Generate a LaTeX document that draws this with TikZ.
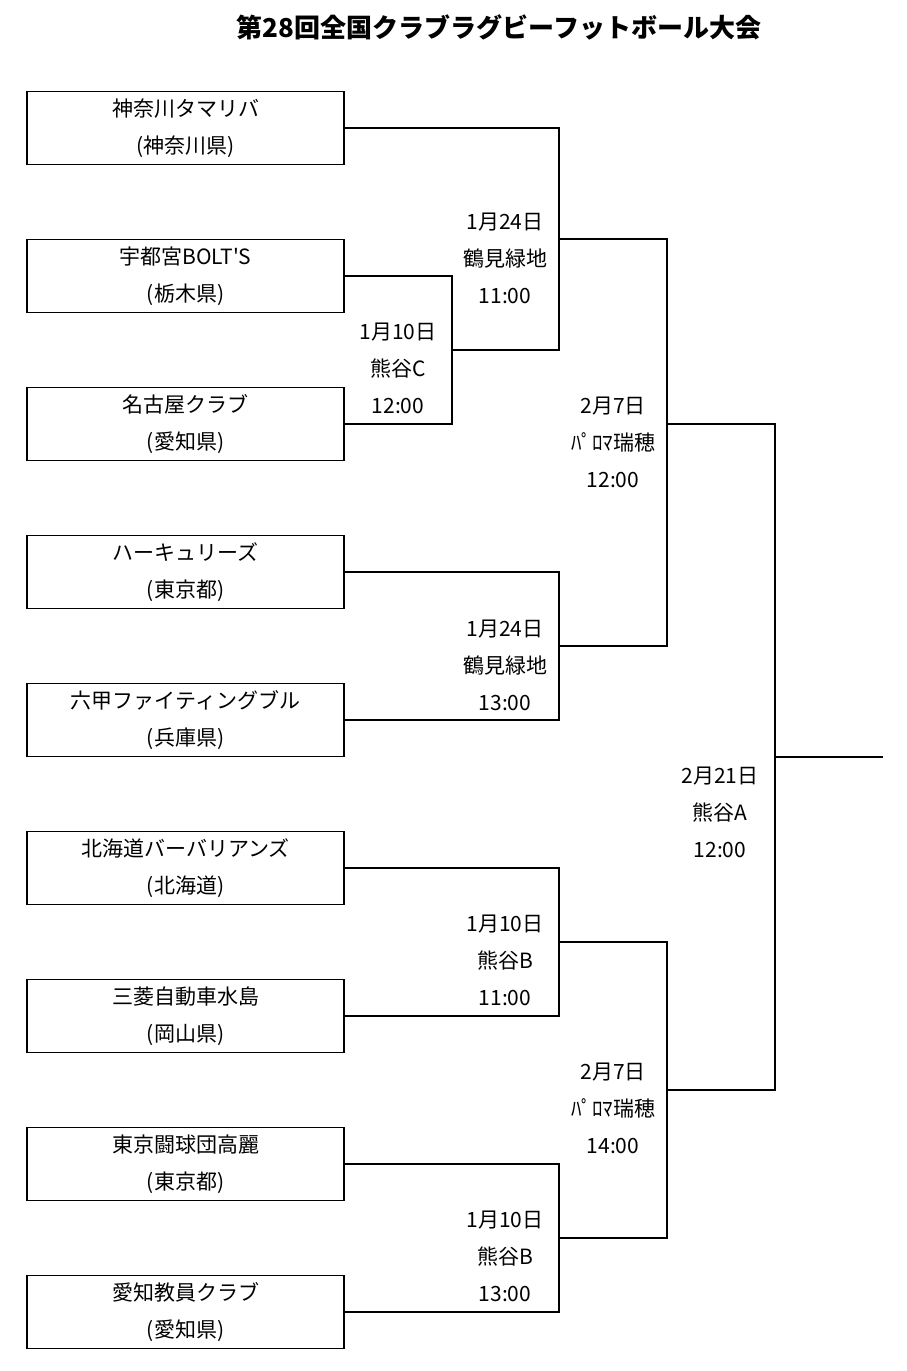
\documentclass[tikz,border=0pt]{standalone}
\usepackage{fontspec}
\setmainfont{Noto Sans CJK JP}
\newfontfamily\plainjp{Noto Sans CJK JP}
\begin{document}
\begin{tikzpicture}[x=1pt,y=-1pt,line width=1.6pt,
  team/.style={draw,minimum width=317pt,minimum height=73pt,inner sep=0pt,align=center,
    font=\fontsize{21}{37}\selectfont},
  info/.style={align=center,inner sep=0pt,font=\fontsize{21}{37}\selectfont}]
\useasboundingbox (0,0) rectangle (906,1371);
\node[font=\bfseries\fontsize{26}{30}\selectfont] (title) at (499,27) {第28回全国クラブラグビーフットボール大会};

% teams
\node[team] (t1) at (185.5,128) {神奈川タマリバ\\(神奈川県)};
\node[team] (t2) at (185.5,276) {宇都宮BOLT{\plainjp '}S\\(栃木県)};
\node[team] (t3) at (185.5,424) {名古屋クラブ\\(愛知県)};
\node[team] (t4) at (185.5,572) {ハーキュリーズ\\(東京都)};
\node[team] (t5) at (185.5,720) {六甲ファイティングブル\\(兵庫県)};
\node[team] (t6) at (185.5,868) {北海道バーバリアンズ\\(北海道)};
\node[team] (t7) at (185.5,1016) {三菱自動車水島\\(岡山県)};
\node[team] (t8) at (185.5,1164) {東京闘球団高麗\\(東京都)};
\node[team] (t9) at (185.5,1312) {愛知教員クラブ\\(愛知県)};

% match points
\coordinate (m1) at (452,350);
\coordinate (m2) at (559,239);
\coordinate (m3) at (559,646);
\coordinate (m4) at (667,424);
\coordinate (m5) at (559,942);
\coordinate (m6) at (559,1238);
\coordinate (m7) at (667,1090);
\coordinate (m8) at (775,757);
\coordinate (win) at (883,757);

% brackets
\draw (t2.east) -| (m1) |- (t3.east);
\draw (t1.east) -| (m2) |- (m1);
\draw (t4.east) -| (m3) |- (t5.east);
\draw (m2) -| (m4) |- (m3);
\draw (t6.east) -| (m5) |- (t7.east);
\draw (t8.east) -| (m6) |- (t9.east);
\draw (m5) -| (m7) |- (m6);
\draw (m4) -| (m8) |- (m7);
\draw (m8) -- (win);

% dates
\node[info] (d1) at (505,258) {1月24日\\鶴見緑地\\11:00};
\node[info] (d2) at (398,368) {1月10日\\熊谷C\\12:00};
\node[info] (d3) at (613,442) {2月7日\\ﾊﾟﾛﾏ瑞穂\\12:00};
\node[info] (d4) at (505,665) {1月24日\\鶴見緑地\\13:00};
\node[info] (d5) at (720,812) {2月21日\\熊谷A\\12:00};
\node[info] (d6) at (505,960) {1月10日\\熊谷B\\11:00};
\node[info] (d7) at (613,1108) {2月7日\\ﾊﾟﾛﾏ瑞穂\\14:00};
\node[info] (d8) at (505,1256) {1月10日\\熊谷B\\13:00};
\end{tikzpicture}
\end{document}
